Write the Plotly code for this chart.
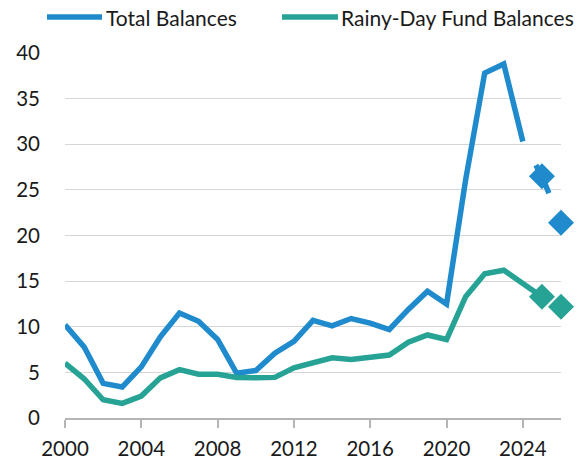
import plotly.graph_objects as go

years_actual = list(range(2000, 2025))
total_actual = [10.2, 7.8, 3.8, 3.4, 5.6, 8.9, 11.5, 10.6, 8.6, 4.9,
                5.2, 7.1, 8.4, 10.7, 10.1, 10.9, 10.4, 9.7, 11.9, 13.9,
                12.5, 26.1, 37.8, 38.8, 30.3]
rainy_actual = [6.0, 4.3, 2.0, 1.6, 2.4, 4.4, 5.3, 4.8, 4.8, 4.45,
                4.4, 4.45, 5.5, 6.0, 6.6, 6.4, 6.6, 6.9, 8.3, 9.1,
                8.6, 13.3, 15.8, 16.2, 14.75]
years_forecast = [2025, 2026]
total_forecast = [26.5, 21.4]
rainy_forecast = [13.3, 12.2]

x_ticks = [2000, 2004, 2008, 2012, 2016, 2020, 2024]
y_ticks = [0, 5, 10, 15, 20, 25, 30, 35, 40]

BLUE = "#1F8BCD"
GREEN = "#27A396"
FONT = "Lato"
TXT = "#1a1a1a"
FS_LEG = 21
FS_TICK = 20.5
LW = 5.5

fig = go.Figure()

# Total balances: actual (solid), projection (dashed) and projected points
fig.add_trace(go.Scatter(x=years_actual, y=total_actual, mode="lines",
                         line=dict(color=BLUE, width=LW), showlegend=False,
                         hoverinfo="skip"))
fig.add_trace(go.Scatter(x=[years_actual[-1]] + years_forecast,
                         y=[total_actual[-1]] + total_forecast, mode="lines",
                         line=dict(color=BLUE, width=LW, dash="0px,27px,31px,200px"),
                         showlegend=False, hoverinfo="skip"))
fig.add_trace(go.Scatter(x=years_forecast, y=total_forecast, mode="markers",
                         marker=dict(symbol="diamond", size=20, color=BLUE),
                         cliponaxis=False, showlegend=False))

# Rainy-day fund balances
fig.add_trace(go.Scatter(x=years_actual + years_forecast[:1],
                         y=rainy_actual + rainy_forecast[:1], mode="lines",
                         line=dict(color=GREEN, width=LW), showlegend=False,
                         hoverinfo="skip"))
fig.add_trace(go.Scatter(x=years_forecast, y=rainy_forecast, mode="markers",
                         marker=dict(symbol="diamond", size=20, color=GREEN),
                         cliponaxis=False, showlegend=False))

# Manual legend
legend_items = [("Total Balances", BLUE, -0.0363, 0.0746, 0.081),
                ("Rainy-Day Fund Balances", GREEN, 0.4375, 0.5504, 0.555)]
shapes = []
annotations = []
for name, col, x0, x1, xt in legend_items:
    shapes.append(dict(type="line", xref="paper", yref="paper", x0=x0, x1=x1,
                       y0=1.0986, y1=1.0986, line=dict(color=col, width=LW)))
    annotations.append(dict(xref="paper", yref="paper", x=xt, y=1.0986,
                            text=name, showarrow=False, xanchor="left",
                            yanchor="middle", borderpad=0,
                            font=dict(family=FONT, size=FS_LEG, color=TXT)))

fig.update_layout(
    width=583, height=465,
    margin=dict(l=65, r=22, t=53, b=47),
    paper_bgcolor="white", plot_bgcolor="white",
    font=dict(family=FONT, size=FS_TICK, color=TXT),
    shapes=shapes, annotations=annotations,
    xaxis=dict(range=[2000, 2026], tickvals=x_ticks, showgrid=False,
               showline=True, linecolor="#b5b5b5", linewidth=1.5,
               ticks="outside", ticklen=8, tickcolor="#b5b5b5", tickwidth=1.5,
               ticklabelstandoff=4,
               tickfont=dict(family=FONT, size=FS_TICK, color=TXT),
               zeroline=False, automargin=False),
    yaxis=dict(range=[0, 40], tickvals=y_ticks, showgrid=True,
               gridcolor="#d6d6d6", gridwidth=1, zeroline=False,
               showline=False, ticks="", ticklabelstandoff=24,
               tickfont=dict(family=FONT, size=FS_TICK, color=TXT),
               automargin=False),
)

fig.write_html("out.html",
               config={"displayModeBar": False},
               post_script="document.body.style.margin='0';"
                           "document.body.style.overflow='hidden';")
